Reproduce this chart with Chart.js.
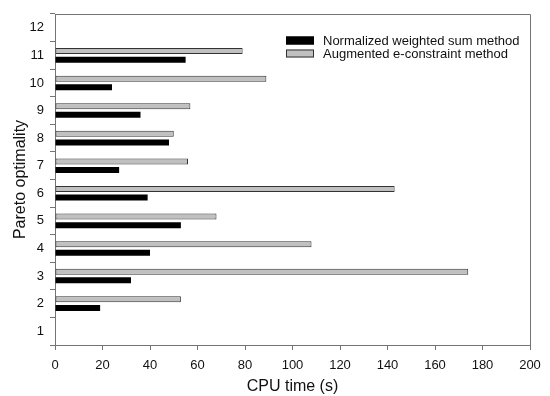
<!DOCTYPE html>
<html>
<head>
<meta charset="utf-8">
<script src="https://cdn.jsdelivr.net/npm/chart.js@4/dist/chart.umd.min.js"></script>
<style>
  html, body { margin: 0; padding: 0; background: #fff; }
  #wrap { width: 550px; height: 396px; }
</style>
</head>
<body>
<div id="wrap"><canvas id="c" width="550" height="396"></canvas></div>
<script>
// Pareto optimal solutions and CPU time (s) for each solution method
const paretoPoints = [2, 3, 4, 5, 6, 7, 8, 9, 10, 11];
const weightedSumTimes = [19, 32, 40, 53, 39, 27, 48, 36, 24, 55];
const augmentedTimes = [53, 174, 108, 68, 143, 56, 50, 57, 89, 79];
const seriesNames = ['Normalized weighted sum method', 'Augmented e-constraint method'];

const FONT = 'Liberation Sans, Arial, sans-serif';
const AXIS_COLOR = '#747474';

// Frame around the plot and the inset legend
const framePlugin = {
  id: 'frameAndLegend',
  afterDatasetsDraw(chart) {
    const { ctx, chartArea: a } = chart;
    ctx.save();
    ctx.strokeStyle = AXIS_COLOR;
    ctx.lineWidth = 1;
    ctx.beginPath();
    ctx.moveTo(a.left, a.top + 0.5);
    ctx.lineTo(a.right + 0.5, a.top + 0.5);
    ctx.lineTo(a.right + 0.5, a.bottom);
    ctx.stroke();

    // legend entries in series order
    const order = [1, 0];
    const x0 = 286, boxW = 28, boxH = 8;
    const rows = [36.5, 49.5];
    ctx.font = '13px ' + FONT;
    ctx.textBaseline = 'middle';
    ctx.textAlign = 'left';
    order.forEach((di, i) => {
      const ds = chart.data.datasets[di];
      const y = rows[i];
      ctx.fillStyle = ds.backgroundColor;
      ctx.fillRect(x0, y, boxW, boxH);
      ctx.strokeStyle = ds.borderColor;
      ctx.lineWidth = 1;
      ctx.strokeRect(x0 + 0.5, y + 0.5, boxW - 1, boxH - 1);
      ctx.fillStyle = '#111';
      ctx.fillText(ds.label, 323, y + boxH / 2 + 0.5);
    });
    ctx.restore();
  }
};

const toPoints = (vals) => vals.map((v, i) => ({ x: v, y: paretoPoints[i] }));

new Chart(document.getElementById('c'), {
  type: 'bar',
  data: {
    datasets: [
      {
        label: seriesNames[1],
        data: toPoints(augmentedTimes),
        backgroundColor: '#c0c0c0',
        borderColor: '#333333',
        borderWidth: 1,
        borderSkipped: false
      },
      {
        label: seriesNames[0],
        data: toPoints(weightedSumTimes),
        backgroundColor: '#000000',
        borderColor: '#000000',
        borderWidth: 0
      }
    ]
  },
  options: {
    indexAxis: 'y',
    responsive: false,
    animation: false,
    devicePixelRatio: 1,
    layout: { padding: { top: 14, right: 20, left: 0, bottom: 0 } },
    datasets: {
      bar: { categoryPercentage: 0.62, barPercentage: 0.7 }
    },
    plugins: {
      legend: { display: false },
      tooltip: { enabled: false }
    },
    scales: {
      x: {
        type: 'linear',
        min: 0,
        max: 200,
        position: 'bottom',
        afterFit: (s) => { s.height = 51; },
        grid: { drawOnChartArea: false, drawTicks: true, tickLength: 5, color: AXIS_COLOR, tickColor: AXIS_COLOR, tickWidth: 1 },
        border: { color: AXIS_COLOR, width: 1 },
        ticks: { stepSize: 20, padding: 8, color: '#111', font: { family: FONT, size: 13 } },
        title: {
          display: true,
          text: 'CPU time (s)',
          color: '#111',
          font: { family: FONT, size: 16 },
          padding: { top: 0, bottom: 0 }
        }
      },
      y: {
        type: 'linear',
        min: 1,
        max: 12,
        position: 'left',
        afterFit: (s) => { s.width = 55; },
        grid: { drawOnChartArea: false, drawTicks: true, tickLength: 5, color: AXIS_COLOR, tickColor: AXIS_COLOR, tickWidth: 1 },
        border: { color: AXIS_COLOR, width: 1 },
        ticks: { stepSize: 1, padding: 6, color: '#111', font: { family: FONT, size: 13 } },
        title: {
          display: true,
          text: 'Pareto optimality',
          color: '#111',
          font: { family: FONT, size: 16 },
          padding: { top: 11, bottom: 0 }
        }
      }
    }
  },
  plugins: [framePlugin]
});
</script>
</body>
</html>
